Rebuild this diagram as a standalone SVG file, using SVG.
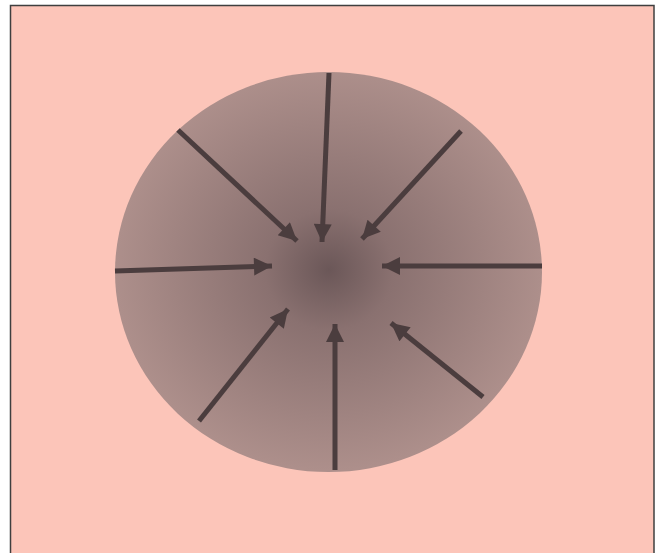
<svg xmlns="http://www.w3.org/2000/svg" width="657" height="553" viewBox="0 0 657 553">
<style>
.arrow{stroke:#4b3d3e;stroke-width:5;fill:none;marker-end:url(#head)}
</style>
<defs>
<radialGradient id="g" cx="329" cy="270" r="213" gradientUnits="userSpaceOnUse" gradientTransform="translate(329 270) scale(1 0.94) translate(-329 -270)">
<stop offset="0" stop-color="#6b5758"/>
<stop offset="0.3" stop-color="#8a7170"/>
<stop offset="1" stop-color="#ad8f8b"/>
</radialGradient>
<marker id="head" viewBox="0 0 10 10" refX="10" refY="5" markerUnits="userSpaceOnUse" markerWidth="20" markerHeight="18" orient="auto">
<path d="M0,0 L10,5 L0,10 z" fill="#4b3d3e"/>
</marker>
</defs>
<rect width="657" height="553" fill="#ffffff"/>
<rect x="10.5" y="5.5" width="643.5" height="560" fill="#fcc5b9" stroke="#3f3f3f" stroke-width="1.5"/>
<g id="disc">
<ellipse cx="328.5" cy="272" rx="213.5" ry="200" fill="url(#g)"/>
</g>
<g id="connectors">
<line class="arrow" x1="329" y1="73" x2="322" y2="242"/>
<line class="arrow" x1="178" y1="130" x2="297" y2="241"/>
<line class="arrow" x1="115" y1="271" x2="272" y2="266"/>
<line class="arrow" x1="199" y1="421" x2="288" y2="309"/>
<line class="arrow" x1="335" y1="470" x2="335" y2="324"/>
<line class="arrow" x1="461" y1="131" x2="362" y2="239"/>
<line class="arrow" x1="542" y1="266" x2="382" y2="266"/>
<line class="arrow" x1="483" y1="397" x2="391" y2="323"/>
</g>
</svg>
